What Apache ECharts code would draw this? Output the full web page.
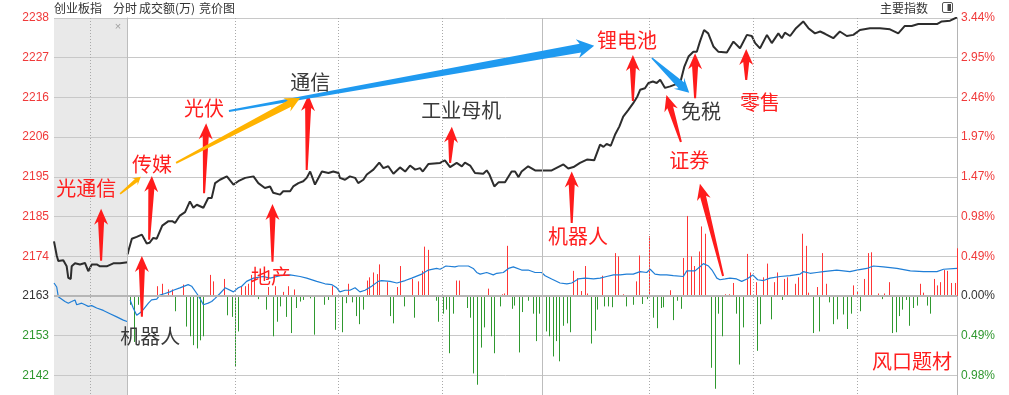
<!DOCTYPE html>
<html><head><meta charset="utf-8">
<script src="https://cdn.jsdelivr.net/npm/echarts@6/dist/echarts.min.js"></script>
<style>html,body{margin:0;padding:0;background:#fff;overflow:hidden;width:1009px;height:395px}#c{width:1009px;height:415px}</style>
</head><body><div id="c"></div>
<script>
// ---------- scale constants ----------
const PREV_CLOSE = 2163.28;      // 昨收
const STEP_PCT = 0.4916;         // one grid row in percent
const AUCTION_SPAN = 21.33;      // width of auction panel in session-minute units
const AUCTION_MINUTES = 10;      // 9:15 - 9:25

// ---------- tick labels (rows k = -2 .. 7) ----------
const leftTickLabels  = ['2142','2153','2163','2174','2185','2195','2206','2216','2227','2238'];
const rightTickLabels = ['0.98%','0.49%','0.00%','0.49%','0.98%','1.47%','1.97%','2.46%','2.95%','3.44%'];
const timeGridMinutes = [31, 61, 91, 151, 181, 211];
const sessionBreakMinutes = [0, 120];
const auctionMidMinute = -10.7;

// ---------- auction (minute 0..10, index) ----------
const auctionPrice = [[0,2177.9],[0.2,2177.5],[0.37,2174.1],[0.58,2172.6],[1.26,2172.8],[1.72,2171.2],[1.94,2168.1],[2.27,2167.8],[2.4,2171.2],[2.85,2172.0],[3.53,2171.7],[4.2,2172.1],[4.65,2169.9],[5.12,2171.7],[5.8,2171.7],[6.24,2171.2],[7.15,2171.2],[8.05,2172.0],[8.96,2172.0],[10,2172.3]];
const auctionFlow = [[0,0.16],[0.14,0.14],[0.37,0.11],[0.58,-0.01],[0.81,-0.03],[1.49,-0.07],[1.94,-0.09],[2.4,-0.07],[2.85,-0.05],[3.08,-0.11],[3.76,-0.09],[4.21,-0.11],[4.65,-0.13],[5.12,-0.12],[5.79,-0.15],[6.69,-0.18],[7.6,-0.22],[8.51,-0.26],[9.4,-0.30],[10,-0.32]];

// ---------- session (minute 0..240) ----------
const pricePoints = [[0,2174.4],[0.2,2175.3],[1.2,2178.6],[2.6,2179.1],[4.1,2179.7],[5.5,2177.3],[6.3,2177.5],[7.4,2178.8],[8.4,2178.6],[10.0,2182.1],[11.8,2183.3],[12.9,2183.3],[13.7,2182.8],[15.1,2184.8],[16.6,2185.7],[18.0,2188.6],[19.0,2186.9],[20.0,2187.7],[21.9,2186.9],[23.3,2189.5],[24.3,2189.5],[25.3,2193.5],[26.7,2194.4],[28.7,2195.3],[30.6,2193.1],[32.0,2194.0],[34.0,2194.9],[36.4,2195.3],[37.8,2193.5],[39.7,2192.2],[41.2,2192.6],[42.1,2190.9],[44.1,2190.4],[45.0,2191.3],[47.0,2191.3],[47.9,2192.6],[49.4,2193.5],[50.8,2194.0],[51.8,2194.9],[52.8,2196.6],[54.2,2193.1],[56.2,2196.6],[58.1,2196.2],[59.5,2196.6],[61.0,2196.2],[61.4,2194.9],[62.9,2194.4],[64.3,2195.3],[65.8,2194.9],[66.7,2193.5],[68.2,2194.4],[69.2,2195.8],[71.1,2197.1],[72.8,2199.0],[74.0,2197.5],[75.4,2198.0],[76.9,2196.0],[78.8,2197.7],[80.3,2196.6],[81.7,2198.2],[83.2,2197.1],[84.6,2197.5],[85.4,2196.6],[87.0,2198.6],[90.4,2198.9],[91.8,2199.6],[93.3,2197.8],[95.2,2198.9],[96.7,2198.0],[97.6,2199.0],[99.1,2198.2],[100.5,2196.2],[102.9,2196.0],[103.9,2196.9],[104.7,2195.8],[106.1,2192.6],[107.3,2193.7],[109.2,2193.7],[111.1,2196.6],[112.1,2196.6],[113.1,2195.1],[114.0,2196.6],[115.9,2198.0],[117.9,2196.9],[120,2196.9],[122.7,2196.9],[126.1,2198.5],[127.5,2197.4],[129.0,2197.8],[130.9,2198.9],[132.9,2199.8],[135.0,2199.6],[136.7,2203.8],[137.7,2203.2],[138.6,2204.0],[139.8,2203.5],[141.1,2206.6],[142.3,2208.7],[143.4,2211.3],[144.9,2213.1],[146.3,2214.9],[147.5,2216.7],[148.3,2218.5],[149.7,2218.9],[150.7,2220.3],[152.0,2220.7],[153.1,2220.3],[154.1,2221.2],[155.5,2219.0],[157.0,2219.4],[159.9,2220.4],[161.1,2224.7],[162.3,2227.4],[163.7,2228.7],[164.7,2228.7],[165.6,2231.4],[166.8,2234.5],[168.0,2233.6],[169.5,2230.1],[170.9,2228.7],[173.4,2228.5],[175.3,2231.4],[177.2,2229.6],[179.2,2233.2],[180.6,2232.9],[181.6,2231.0],[183.0,2229.6],[185.0,2233.2],[186.4,2231.0],[188.3,2233.6],[189.3,2232.3],[190.2,2233.8],[191.7,2232.9],[193.4,2235.0],[195.5,2236.8],[197.0,2235.0],[198.9,2233.6],[200.4,2234.1],[201.8,2233.5],[204.2,2232.3],[206.1,2234.1],[208.1,2232.9],[210.0,2233.2],[211.9,2234.5],[214.8,2235.0],[217.7,2235.0],[220.6,2234.7],[223.0,2233.6],[224.9,2235.6],[226.9,2235.6],[228.8,2236.1],[234.2,2236.1],[235.6,2236.8],[238.0,2237.0],[240,2237.9]];

const flowPoints = [[0.7,-0.05],[1.6,-0.15],[2.6,-0.24],[3.6,-0.21],[4.5,-0.17],[6.0,-0.09],[6.9,-0.05],[8.4,-0.04],[9.3,0.01],[10.8,0.03],[12.2,0.05],[13.2,0.07],[15.1,0.10],[17.5,0.14],[18.5,0.12],[20.0,0.03],[20.9,-0.03],[21.9,-0.11],[23.3,-0.09],[24.3,-0.07],[25.3,-0.03],[26.7,0.03],[28.2,0.10],[30.6,0.05],[32.0,0.10],[33.0,0.12],[34.4,0.18],[36.4,0.22],[39.2,0.24],[41.2,0.22],[44.1,0.25],[47.0,0.26],[49.9,0.24],[51.8,0.22],[54.7,0.18],[57.1,0.15],[59.0,0.14],[60.5,0.10],[61.4,0.05],[62.9,0.07],[64.3,0.07],[65.8,0.10],[67.2,0.05],[68.7,0.07],[70.6,0.12],[72.5,0.18],[73.5,0.19],[75.9,0.18],[77.9,0.16],[80.3,0.19],[82.2,0.22],[85.1,0.27],[87.0,0.32],[89.4,0.34],[90.4,0.33],[92.1,0.37],[94.7,0.36],[95.7,0.37],[98.6,0.37],[100.0,0.34],[101.0,0.29],[102.0,0.27],[103.9,0.29],[105.8,0.26],[106.8,0.28],[108.7,0.29],[110.2,0.34],[111.6,0.36],[114.0,0.32],[115.9,0.32],[117.9,0.29],[119.8,0.29],[120.8,0.25],[122.7,0.21],[125.1,0.16],[127.1,0.15],[128.5,0.16],[130.4,0.21],[132.4,0.22],[134.8,0.21],[136.7,0.22],[138.6,0.24],[140.6,0.26],[142.5,0.26],[144.4,0.27],[146.3,0.27],[148.3,0.30],[150.2,0.29],[151.2,0.33],[152.6,0.27],[154.1,0.26],[156.0,0.26],[157.9,0.25],[160.8,0.24],[161.8,0.31],[164.2,0.31],[165.6,0.36],[166.6,0.40],[168.1,0.37],[169.1,0.32],[170.5,0.22],[171.4,0.20],[172.9,0.21],[174.3,0.22],[176.2,0.21],[177.7,0.18],[179.2,0.21],[180.9,0.26],[182.3,0.20],[184.0,0.19],[185.9,0.22],[188.8,0.24],[191.7,0.25],[194.6,0.27],[195.5,0.30],[197.5,0.28],[199.4,0.29],[201.3,0.30],[205.2,0.32],[209.0,0.30],[211.0,0.32],[213.9,0.34],[215.8,0.37],[218.7,0.36],[222.6,0.34],[226.5,0.31],[230.3,0.30],[234.2,0.30],[236.1,0.33],[240,0.34]];

const volumeBars = [
 [0.7,-0.11],[1.9,-0.57],[2.9,-0.11],[8.4,0.12],[10.0,0.15],[11.8,0.08],[12.9,0.08],[13.7,-0.19],[15.9,0.14],[16.9,-0.38],[18.0,-0.50],[19.0,-0.61],[20.0,-0.65],[20.9,-0.55],[21.9,-0.50],[23.8,0.26],[24.8,0.18],[27.9,0.21],[28.8,-0.24],[30.1,-0.26],[31.1,-0.88],[32.0,-0.44],[32.9,0.12],[33.9,0.12],[34.9,0.15],[35.6,0.26],[36.6,0.22],[37.8,-0.04],[39.9,-0.17],[40.6,0.11],[42.0,-0.50],[42.6,0.12],[43.1,-0.32],[44.1,-0.13],[44.9,0.05],[45.8,-0.26],[46.5,0.12],[47.2,-0.46],[48.1,0.08],[48.6,-0.15],[49.9,-0.07],[50.8,-0.05],[52.8,-0.03],[54.0,-0.48],[56.9,-0.11],[58.1,-0.05],[59.0,0.12],[60.0,-0.42],
 [61.9,-0.45],[63.1,-0.09],[63.8,0.15],[65.0,-0.08],[66.0,-0.25],[67.0,-0.35],[68.0,-0.17],[69.2,0.19],[69.9,0.23],[71.1,0.29],[72.1,0.27],[72.8,0.39],[75.0,0.17],[75.9,-0.25],[76.9,-0.34],[78.0,0.11],[78.8,0.37],[80.1,-0.13],[82.2,0.21],[82.9,-0.27],[84.1,0.18],[85.1,0.31],[85.8,0.61],[87.0,0.57],[89.1,-0.06],[89.9,-0.32],[91.2,-0.22],[92.0,-0.17],[93.1,-0.71],[94.1,-0.22],[95.0,0.19],[95.9,0.19],[98.1,-0.15],[99.1,-0.27],[100.0,-0.96],[101.0,-1.10],[102.2,-0.64],[103.1,-0.39],[104.2,0.09],[105.1,-0.50],[106.1,-0.71],[107.6,-0.13],[108.2,0.02],[109.0,0.03],[109.9,0.62],[111.1,-0.16],[111.9,-0.12],[113.1,-0.70],[114.0,-0.20],[115.9,-0.06],[117.2,-0.22],[118.1,-0.56],[119.1,-0.22],[120.0,0.37],
 [121.0,-0.44],[122.0,-0.50],[123.0,-0.75],[124.0,-0.56],[124.9,-0.81],[125.9,-0.37],[127.1,-0.34],[128.0,-0.45],[129.0,0.31],[130.1,0.22],[131.1,0.06],[132.4,0.37],[133.0,0.03],[134.0,-0.59],[135.1,-0.43],[135.9,-0.17],[137.2,0.25],[137.9,-0.13],[139.1,-0.13],[140.1,-0.14],[141.1,0.53],[142.0,0.49],[143.3,0.02],[144.1,-0.13],[146.2,-0.11],[147.0,0.18],[148.0,0.50],[148.9,-0.10],[150.2,-0.04],[151.0,0.74],[152.1,-0.27],[153.1,-0.40],[154.3,-0.15],[155.0,-0.14],[157.0,0.07],[157.9,-0.30],[159.1,-0.06],[160.1,-0.16],[160.8,0.47],[162.0,0.99],[163.0,0.49],[164.0,0.37],[165.2,0.55],[166.0,0.86],[167.1,0.77],[168.7,-0.89],[170.0,-1.15],[170.9,-0.22],[172.1,-0.50],[172.9,0.02],[174.1,0.02],[175.1,0.16],[176.1,-0.22],[177.0,-0.85],[178.2,-0.39],[179.2,0.52],[180.1,0.29],[181.8,0.17],[182.1,-0.68],[183.0,-0.35],[183.8,0.23],[185.1,0.40],[186.1,-0.29],[187.1,0.17],[188.0,0.29],[189.3,-0.05],[190.0,0.21],[190.9,0.23],[193.1,0.15],[194.1,0.23],[195.1,0.77],[196.2,0.62],[197.0,0.04],[198.3,-0.46],[199.4,0.11],[200.2,-0.44],[201.0,0.53],[202.1,0.15],[203.1,-0.08],[204.2,-0.35],[205.2,-0.29],[207.1,-0.23],[208.1,-0.41],[209.4,-0.22],[210.0,0.13],[211.2,0.06],[212.0,-0.19],[213.2,0.21],[214.2,0.53],[215.2,0.54],[217.0,0.03],[218.2,-0.04],[218.8,0.03],[220.2,0.17],[221.1,-0.46],[222.4,-0.45],[223.2,-0.25],[224.2,-0.17],[225.2,-0.05],[226.2,-0.37],[227.2,-0.15],[228.4,-0.12],[229.3,0.15],[230.1,0.04],[231.2,-0.12],[232.2,-0.22],[233.2,0.21],[234.2,0.13],[235.2,0.17],[236.2,0.32],[237.2,0.31],[238.2,0.16],[239.4,0.16],[240,0.59]
];

// ---------- annotations: [minute, index level] ----------
const arrowNotes = [
 {from:[-7.7,2172.7], to:[-7.7,2186.6], kind:'red'},
 {from:[6.2,2178.3], to:[7.0,2195.4], kind:'red'},
 {from:[4.1,2157.7], to:[4.1,2174.0], kind:'red'},
 {from:[22.1,2190.8], to:[22.7,2209.5], kind:'red'},
 {from:[41.9,2172.4], to:[41.9,2187.9], kind:'red'},
 {from:[51.8,2197.0], to:[52.3,2217.1], kind:'red'},
 {from:[93.3,2198.9], to:[93.8,2208.6], kind:'red'},
 {from:[128.5,2182.8], to:[128.5,2196.6], kind:'red'},
 {from:[146.2,2215.5], to:[146.2,2227.8], kind:'red'},
 {from:[164.2,2216.2], to:[164.2,2228.3], kind:'red'},
 {from:[179.0,2221.1], to:[179.0,2229.4], kind:'red'},
 {from:[160.1,2204.5], to:[155.9,2217.1], kind:'red'},
 {from:[172.3,2168.6], to:[165.6,2193.3], kind:'red'},
 {from:[29.3,2212.8], to:[135.0,2230.3], kind:'blue'},
 {from:[151.7,2227.0], to:[162.5,2217.7], kind:'blue2'},
 {from:[-2.2,2190.6], to:[3.8,2195.2], kind:'yellowSmall'},
 {from:[14.0,2198.9], to:[49.9,2216.3], kind:'yellow'}
];
const textNotes = [
 {at:[-12.0,2192.2], text:'光通信', kind:'red'},
 {at:[7.0,2198.6], text:'传媒', kind:'red'},
 {at:[22.1,2213.4], text:'光伏', kind:'red'},
 {at:[52.8,2220.6], text:'通信', kind:'dark'},
 {at:[96.5,2213.1], text:'工业母机', kind:'dark'},
 {at:[144.5,2231.6], text:'锂电池', kind:'red'},
 {at:[165.9,2212.6], text:'免税', kind:'dark'},
 {at:[183.0,2215.0], text:'零售', kind:'red'},
 {at:[162.5,2199.5], text:'证券', kind:'red'},
 {at:[130.3,2179.1], text:'机器人', kind:'red'},
 {at:[6.5,2152.3], text:'机器人', kind:'dark'},
 {at:[41.5,2168.4], text:'地产', kind:'red'},
 {at:[227.0,2145.6], text:'风口题材', kind:'red'}
];

// ---------- styles ----------
const RED = '#ff3636', GREEN = '#2f982f', DARK = '#333333';
const ARROW_STYLES = {
  red:        {color:'#ff1c1c', tailW:2,   neckW:6, headW:14, headL:16, notch:3},
  blue:       {color:'#1f9af0', tailW:2,   neckW:9, headW:19, headL:17, notch:3},
  blue2:      {color:'#1f9af0', tailW:1.5, neckW:8, headW:15, headL:14, notch:3},
  yellow:     {color:'#ffb300', tailW:2,   neckW:7, headW:15, headL:15, notch:3},
  yellowSmall:{color:'#ffb300', tailW:1.5, neckW:4, headW:9,  headL:8,  notch:2}
};
const TEXT_COLORS = {red:'#ff1f1f', dark:'#3a3a3a'};
const CJK = '"Noto Sans CJK SC", sans-serif';

// ---------- conversions ----------
const toK = p => (p / PREV_CLOSE - 1) * 100 / STEP_PCT;
const pctToK = v => v / STEP_PCT;
const auctionX = a => -AUCTION_SPAN + a * AUCTION_SPAN / AUCTION_MINUTES;
const labelColor = v => v > 0 ? '#f03a3a' : (v < 0 ? '#2f982f' : '#333');

const chart = echarts.init(document.getElementById('c'), null, {renderer:'canvas'});

const vGuides = [];
timeGridMinutes.concat([auctionMidMinute]).forEach(m => vGuides.push({xAxis:m, lineStyle:{color:'#a9a9a9', width:1, type:[1,2]}}));
sessionBreakMinutes.forEach(m => vGuides.push({xAxis:m, lineStyle:{color:'#bdbdbd', width:1, type:'solid'}}));
vGuides.push({yAxis:0, lineStyle:{color:'#b6b6b6', width:2, type:'solid'}});

const option = {
  animation:false,
  backgroundColor:'#ffffff',
  grid:{left:54, right:52, top:18, bottom:0, containLabel:false, outerBoundsMode:'none'},
  xAxis:{type:'value', min:-AUCTION_SPAN, max:240, show:false},
  yAxis:[
    {type:'value', min:-3, max:7, interval:1, position:'left',
     axisLine:{show:true, lineStyle:{color:'#b4b4b4'}}, axisTick:{show:false},
     splitLine:{show:true, lineStyle:{color:'#c8c8c8', width:1}},
     axisLabel:{margin:5, fontSize:12, fontFamily:'Arial, "Liberation Sans", sans-serif',
       formatter:v => leftTickLabels[v+2] || '', color:labelColor}},
    {type:'value', min:-3, max:7, interval:1, position:'right',
     axisLine:{show:true, lineStyle:{color:'#b4b4b4'}}, axisTick:{show:false}, splitLine:{show:false},
     axisLabel:{margin:4, fontSize:12, fontFamily:'Arial, "Liberation Sans", sans-serif',
       formatter:v => rightTickLabels[v+2] || '', color:labelColor}}
  ],
  graphic:[
    {type:'text', x:54, y:8, style:{text:'创业板指', fill:DARK, font:'12px '+CJK, verticalAlign:'middle'}},
    {type:'text', x:113, y:8, style:{text:'分时', fill:DARK, font:'12px '+CJK, verticalAlign:'middle'}},
    {type:'text', x:139, y:8, style:{text:'成交额(万)', fill:DARK, font:'12px '+CJK, verticalAlign:'middle'}},
    {type:'text', x:199, y:8, style:{text:'竞价图', fill:DARK, font:'12px '+CJK, verticalAlign:'middle'}},
    {type:'text', x:880, y:8, style:{text:'主要指数', fill:DARK, font:'12px '+CJK, verticalAlign:'middle'}},
    {type:'rect', shape:{x:942.5, y:2.5, width:10, height:10, r:1.5}, style:{fill:'#fff', stroke:'#555', lineWidth:1}},
    {type:'rect', shape:{x:947.5, y:4, width:3.5, height:7}, style:{fill:'#444'}},
    {type:'text', x:118, y:27, z:10, style:{text:'×', fill:'#a0a0a0', font:'11px Arial', align:'center', verticalAlign:'middle'}}
  ],
  series:[
    {type:'custom', name:'auctionBg', z:-1, silent:true, clip:false,
     data:[[-AUCTION_SPAN, 0]],
     renderItem:(params, api) => {
       const cs = params.coordSys;
       const xr = api.coord([0, 0])[0];
       return {type:'rect', shape:{x:cs.x, y:cs.y, width:xr - cs.x, height:cs.height}, style:{fill:'#e9e9e9'}};
     }},
    {type:'line', name:'guides', z:1, silent:true, data:[], showSymbol:false,
     markLine:{silent:true, symbol:['none','none'], label:{show:false}, animation:false, data:vGuides}},
    {type:'custom', name:'bars', z:2, silent:true,
     data:volumeBars.map(([m,v]) => [m, pctToK(v)]),
     renderItem:(params, api) => {
       const m = api.value(0), k = api.value(1);
       const p0 = api.coord([m, 0]), p1 = api.coord([m, k]);
       const x = Math.round(p0[0]) + 0.5;
       return {type:'line', shape:{x1:x, y1:p0[1], x2:x, y2:p1[1]}, style:{stroke:k > 0 ? RED : GREEN, lineWidth:1}};
     }},
    {type:'line', name:'auctionFlow', z:3, showSymbol:false, symbol:'none',
     lineStyle:{color:'#1f7ed6', width:1.2}, data:auctionFlow.map(([a,v]) => [auctionX(a), pctToK(v)])},
    {type:'line', name:'flow', z:3, showSymbol:false, symbol:'none',
     lineStyle:{color:'#1f7ed6', width:1.2}, data:flowPoints.map(([m,v]) => [m, pctToK(v)])},
    {type:'line', name:'auctionPrice', z:4, showSymbol:false, symbol:'none',
     lineStyle:{color:'#2d2d2d', width:2}, data:auctionPrice.map(([a,p]) => [auctionX(a), toK(p)])},
    {type:'line', name:'price', z:4, showSymbol:false, symbol:'none',
     lineStyle:{color:'#2d2d2d', width:2}, data:pricePoints.map(([m,p]) => [m, toK(p)])},
    {type:'custom', name:'arrows', z:6, silent:true, clip:false,
     data:arrowNotes.map(a => [a.from[0], toK(a.from[1]), a.to[0], toK(a.to[1])]),
     renderItem:(params, api) => {
       const st = ARROW_STYLES[arrowNotes[params.dataIndex].kind];
       const p1 = api.coord([api.value(0), api.value(1)]);
       const p2 = api.coord([api.value(2), api.value(3)]);
       const dx = p2[0]-p1[0], dy = p2[1]-p1[1], L = Math.hypot(dx, dy);
       const ux = dx/L, uy = dy/L, nx = -uy, ny = ux;
       const hb = L - st.headL;
       const pt = (t, w) => [p1[0] + ux*t + nx*w, p1[1] + uy*t + ny*w];
       const pts = [pt(0, st.tailW/2), pt(hb + st.notch, st.neckW/2), pt(hb, st.headW/2), pt(L, 0),
                    pt(hb, -st.headW/2), pt(hb + st.notch, -st.neckW/2), pt(0, -st.tailW/2)];
       return {type:'polygon', shape:{points:pts}, style:{fill:st.color}};
     }},
    {type:'custom', name:'labels', z:7, silent:true, clip:false,
     data:textNotes.map(t => [t.at[0], toK(t.at[1])]),
     renderItem:(params, api) => {
       const t = textNotes[params.dataIndex];
       const p = api.coord([api.value(0), api.value(1)]);
       return {type:'text', x:p[0], y:p[1],
         style:{text:t.text, fill:TEXT_COLORS[t.kind], fontSize:20, fontFamily:CJK, align:'center', verticalAlign:'middle'}};
     }}
  ]
};
chart.setOption(option);
</script>
</body></html>
